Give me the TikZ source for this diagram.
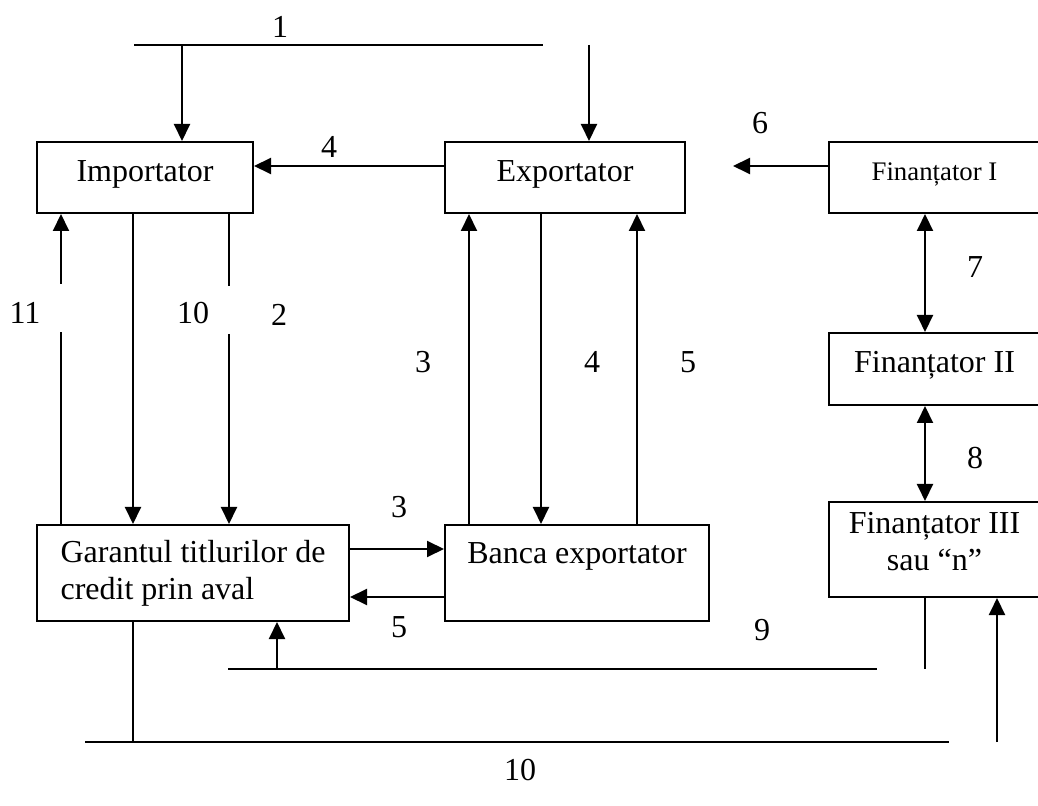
\documentclass[tikz,border=0pt]{standalone}
\usepackage{fontspec}
\setmainfont{Liberation Serif}
\usetikzlibrary{positioning, arrows.meta}
\usetikzlibrary{calc}

\begin{document}
\begin{tikzpicture}[
      x=0.5pt, y=-0.5pt,
      box/.style={draw, rectangle, line width=1pt, inner sep=0pt, font=\fontsize{16}{18.5}\selectfont},
      onebox/.style={box, text height=11pt, text depth=7pt},
      arrow/.style={-{Triangle[length=8.5pt, width=8pt]}, line width=1pt},
      both/.style={{Triangle[length=8.5pt, width=8pt]}-{Triangle[length=8.5pt, width=8pt]}, line width=1pt},
      num/.style={font=\fontsize{16}{18.5}\selectfont, inner sep=0pt}
    ]
      \useasboundingbox (0,0) rectangle (1038,806);

      % boxes
      \node[onebox, minimum width=108pt, minimum height=35.5pt] (imp) at (145,177.5) {Importator};
      \node[onebox, minimum width=120pt, minimum height=35.5pt] (exp) at (565,177.5) {Exportator};
      \node[box, minimum width=105.5pt, minimum height=35.5pt, text height=9pt, text depth=6pt, font=\fontsize{13.4}{16}\selectfont] (fin1) at (934.5,177.5) {Finanțator I};
      \node[onebox, minimum width=105.5pt, minimum height=36pt] (fin2) at (934.5,369) {Finanțator II};
      \node[box, minimum width=105.5pt, minimum height=47.5pt,
            label={[num, align=center, yshift=4pt]center:Finanțator III\\sau “n”}] (fin3) at (934.5,549.5) {};
      \node[box, minimum width=156pt, minimum height=48pt, align=left] (gar) at (193,573) {Garantul titlurilor de\\credit prin aval};
      \node[box, minimum width=132pt, minimum height=48pt,
            label={[num, yshift=8.5pt]center:Banca exportator}] (ban) at (577,573) {};

      % flow 1
      \coordinate (tl) at (134,45);
      \coordinate (tr) at (543,45);
      \draw[line width=1pt] (tl) -- (tr);
      \coordinate (top1) at (182,45);
      \coordinate (top2) at (589,45);
      \draw[arrow] (top1) -- (top1 |- imp.north);
      \draw[arrow] (top2) -- (top2 |- exp.north);
      \node[num] (n1) at (280,27) {1};

      % flow 4 and 6
      \coordinate (e4) at ([yshift=5.75pt]exp.west);
      \draw[arrow] (e4) -- (e4 -| imp.east);
      \node[num] (n4a) at (329,147) {4};
      \coordinate (f6) at ([yshift=5.75pt]fin1.west);
      \coordinate (h6) at (733,166);
      \draw[arrow] (f6) -- (h6);
      \node[num] (n6) at (760,123) {6};

      % financing chain
      \coordinate (f7) at ([xshift=-4.75pt]fin1.south);
      \coordinate (f8) at ([xshift=-4.75pt]fin2.south);
      \draw[both] (f7) -- (f7 |- fin2.north);
      \draw[both] (f8) -- (f8 |- fin3.north);
      \node[num] (n7) at (975,267) {7};
      \node[num] (n8) at (975,458) {8};

      % importator - garant
      \coordinate (i11) at ([xshift=-42pt]imp.south);
      \coordinate (i10) at ([xshift=-6pt]imp.south);
      \coordinate (i2) at ([xshift=42pt]imp.south);
      \draw[arrow, dash pattern=on 96pt off 24pt on 200pt off 1pt] (i11 |- gar.north) -- (i11);
      \draw[arrow] (i10) -- (i10 |- gar.north);
      \draw[arrow, dash pattern=on 36pt off 24pt on 200pt off 1pt] (i2) -- (i2 |- gar.north);
      \node[num] (n11) at (25,313) {11};
      \node[num] (n10a) at (193,313) {10};
      \node[num] (n2) at (279,315) {2};

      % exportator - banca
      \coordinate (x3) at ([xshift=-48pt]exp.south);
      \coordinate (x4) at ([xshift=-12pt]exp.south);
      \coordinate (x5) at ([xshift=36pt]exp.south);
      \draw[arrow] (x3 |- ban.north) -- (x3);
      \draw[arrow] (x4) -- (x4 |- ban.north);
      \draw[arrow] (x5 |- ban.north) -- (x5);
      \node[num] (n3a) at (423,362) {3};
      \node[num] (n4b) at (592,362) {4};
      \node[num] (n5a) at (688,362) {5};

      % garant - banca
      \coordinate (g3) at ([yshift=12pt]gar.east);
      \coordinate (b5) at ([yshift=-12pt]ban.west);
      \draw[arrow] (g3) -- (g3 -| ban.west);
      \draw[arrow] (b5) -- (b5 -| gar.east);
      \node[num] (n3b) at (399,507) {3};
      \node[num] (n5b) at (399,627) {5};

      % flow 9
      \coordinate (l9a) at (228,669);
      \coordinate (l9b) at (877,669);
      \draw[line width=1pt] (l9a) -- (l9b);
      \coordinate (u9) at (277,669);
      \draw[arrow] (u9) -- (u9 |- gar.south);
      \coordinate (d9) at (925,669);
      \draw[line width=1pt] (d9 |- fin3.south) -- (d9);
      \node[num] (n9) at (762,630) {9};

      % flow 10
      \coordinate (l10a) at (85,742);
      \coordinate (l10b) at (949,742);
      \draw[line width=1pt] (l10a) -- (l10b);
      \coordinate (d10) at (133,742);
      \draw[line width=1pt] (d10 |- gar.south) -- (d10);
      \coordinate (u10) at (997,742);
      \draw[arrow] (u10) -- (u10 |- fin3.south);
      \node[num] (n10b) at (520,770) {10};
    \end{tikzpicture}
\end{document}
